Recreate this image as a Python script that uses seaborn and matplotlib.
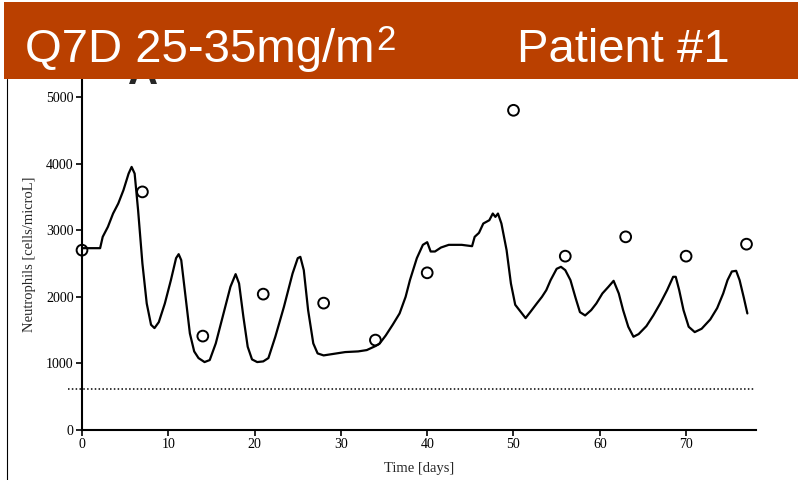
"""
Neutrophil time course for patient #1 (Q7D 25-35 mg/m2): model curve vs observed counts.
"""

import pandas as pd
import matplotlib.pyplot as plt
import seaborn as sns
from matplotlib.patches import Rectangle
from matplotlib.lines import Line2D

# --- data ---
curve_days = [
    0, 2.1, 2.4, 3.0, 3.6, 4.2, 4.8, 5.4, 5.75, 6.1, 6.5, 7.0, 7.5, 8.0, 8.4, 8.9,
    9.6, 10.3, 10.9, 11.2, 11.5, 12.0, 12.5, 13.0, 13.5, 14.2, 14.8, 15.5, 16.3,
    17.2, 17.8, 18.2, 18.7, 19.2, 19.7, 20.3, 21.0, 21.6, 22.4, 23.4, 24.4, 25.0,
    25.3, 25.7, 26.2, 26.8, 27.3, 28.0, 29.0, 30.5, 32.0, 33.0, 34.0, 34.5, 35.2,
    36.0, 36.8, 37.5, 38.0, 38.8, 39.5, 40.0, 40.4, 40.9, 41.6, 42.5, 44.0, 45.2,
    45.5, 46.0, 46.5, 47.2, 47.6, 47.9, 48.2, 48.6, 49.2, 49.7, 50.2, 50.8, 51.4,
    52.0, 52.7, 53.3, 53.8, 54.3, 55.0, 55.5, 56.0, 56.6, 57.2, 57.7, 58.3, 59.0,
    59.6, 60.3, 61.0, 61.6, 62.2, 62.7, 63.3, 63.9, 64.5, 65.4, 66.2, 67.0, 67.8,
    68.5, 68.8, 69.2, 69.7, 70.3, 71.0, 71.8, 72.8, 73.6, 74.3, 74.8, 75.3, 75.8,
    76.2, 76.7, 77.1,
]
curve_neutrophils = [
    2730, 2730, 2900, 3050, 3250, 3400, 3600, 3850, 3950, 3850, 3300, 2500, 1900,
    1580, 1530, 1620, 1900, 2250, 2580, 2640, 2550, 2000, 1450, 1180, 1080, 1020,
    1050, 1300, 1700, 2150, 2340, 2200, 1700, 1250, 1060, 1020, 1030, 1080, 1400,
    1850, 2350, 2580, 2600, 2400, 1800, 1300, 1150, 1120, 1140, 1170, 1180, 1200,
    1260, 1300, 1420, 1580, 1750, 2000, 2250, 2580, 2780, 2820, 2680, 2680, 2740,
    2780, 2780, 2760, 2900, 2960, 3100, 3150, 3250, 3200, 3250, 3100, 2700, 2200,
    1880, 1780, 1680, 1780, 1900, 2000, 2100, 2250, 2420, 2450, 2400, 2250, 1980,
    1770, 1720, 1800, 1900, 2050, 2150, 2240, 2050, 1800, 1550, 1400, 1440, 1560,
    1720, 1900, 2100, 2300, 2300, 2100, 1800, 1550, 1470, 1520, 1660, 1830, 2050,
    2250, 2380, 2390, 2250, 1980, 1750,
]

obs_days = [0, 7, 14, 21, 28, 34, 40, 50, 56, 63, 70, 77]
obs_neutrophils = [2700, 3575, 1410, 2040, 1905, 1350, 2360, 4800, 2610, 2900, 2610, 2790]

threshold = 615
x_ticks = [0, 10, 20, 30, 40, 50, 60, 70]
y_ticks = [0, 1000, 2000, 3000, 4000, 5000]

title_left = "Q7D 25-35mg/m"
title_sup = "2"
title_right = "Patient #1"

BAR_COLOR = "#BA4000"
SERIF = ["Liberation Serif", "DejaVu Serif"]
SANS = ["Liberation Sans", "DejaVu Sans"]

sns.set_style("ticks")
plt.rcParams['font.family'] = SERIF

curve_df = pd.DataFrame({"day": curve_days, "neutrophils": curve_neutrophils})
obs_df = pd.DataFrame({"day": obs_days, "neutrophils": obs_neutrophils})

fig = plt.figure(figsize=(7.98, 4.8), dpi=100)
W, H = 798, 480
ax = fig.add_axes([82 / W, 1 - 430 / H, (756 - 82) / W, (430 - 79) / H])

sns.lineplot(data=curve_df, x="day", y="neutrophils", sort=False, estimator=None,
             color="black", linewidth=1.6, ax=ax)
sns.scatterplot(data=obs_df, x="day", y="neutrophils", marker="o", s=60,
                facecolor="none", edgecolor="black", linewidth=1.4, ax=ax,
                clip_on=False, zorder=4)

# lower limit line, runs a little past the y axis
ax.plot([-1.6, 78.0], [threshold, threshold], color="black", linestyle=(0, (1, 1.5)),
        linewidth=1.1, clip_on=False)

ax.set_xlim(0, 78.1)
ax.set_ylim(0, 5270)
ax.set_xticks(x_ticks)
ax.set_yticks(y_ticks)
ax.tick_params(direction="out", length=4, width=1.2, labelsize=10, pad=2, colors="black")
sns.despine(ax=ax)
for side in ["left", "bottom"]:
    ax.spines[side].set_linewidth(1.5)
    ax.spines[side].set_color("black")
ax.set_xlabel("Time [days]", fontsize=10.5, labelpad=8)
ax.set_ylabel("Neutrophils [cells/microL]", fontsize=10.5, labelpad=7)

# panel letter mostly hidden behind the title bar
fig.text(143 / W, 1 - 84 / H, "A", fontsize=30, fontweight="bold", family=SANS,
         ha="center", va="baseline", zorder=1)

# slide frame and title bar
fig.add_artist(Line2D([7 / W, 7 / W], [0, 1 - 79 / H], color="black", linewidth=0.8))
fig.add_artist(Rectangle((4 / W, 1 - 79 / H), 1, 77 / H, facecolor=BAR_COLOR,
                         edgecolor="none", transform=fig.transFigure, zorder=5))
fig.text(25 / W, 1 - 62 / H, title_left, fontsize=34, color="white", family=SANS,
         ha="left", va="baseline", zorder=6)
fig.text(376 / W, 1 - 50 / H, title_sup, fontsize=25, color="white", family=SANS,
         ha="left", va="baseline", zorder=6)
fig.text(517 / W, 1 - 62 / H, title_right, fontsize=34, color="white", family=SANS,
         ha="left", va="baseline", zorder=6)

plt.savefig("out.png", dpi=100)
